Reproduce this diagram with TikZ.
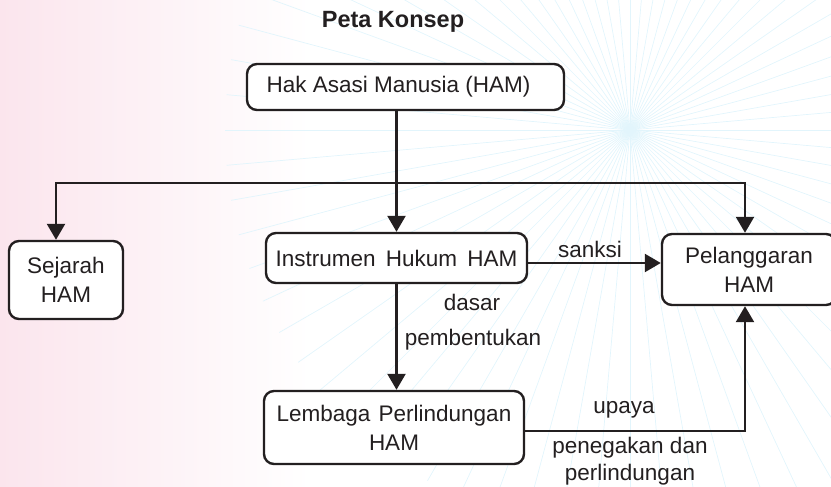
\documentclass[tikz,border=0pt]{standalone}
\usepackage{fontspec}
\setmainfont{Liberation Sans}
\usetikzlibrary{arrows.meta,calc}
\definecolor{ink}{RGB}{35,31,32}
\definecolor{rose}{RGB}{251,229,237}
\definecolor{raycol}{RGB}{226,245,252}
\begin{document}
\begin{tikzpicture}[x=1pt,y=-1pt,
  box/.style={draw=ink, fill=white, line width=2.4pt, rounded corners=10pt, align=center, text=ink,
    font=\fontsize{22.5}{29}\selectfont},
  lbl/.style={text=ink, font=\fontsize{22.5}{29}\selectfont, inner sep=0pt},
  arr/.style={draw=ink, line width=2.4pt, -{Triangle[width=18pt,length=16pt]}}]
\useasboundingbox (0,0) rectangle (831,487);
% background
\shade[left color=rose, right color=white] (0,0) rectangle (310,487);
\foreach \a in {0,5,...,355} \draw[raycol, line width=0.7pt] (630,130) -- ++(\a:405);
% title
\node[text=ink, font=\fontsize{23.5}{26}\selectfont\bfseries] (title) at (393,22) {Peta Konsep};
% boxes
\node[box, minimum width=317pt, minimum height=46pt] (ham) at (405.5,87) {Hak Asasi Manusia (HAM)\hspace*{14pt}};
\node[box, minimum width=114pt, minimum height=78pt] (sej) at (66,280) {Sejarah\\HAM};
\node[box, minimum width=261pt, minimum height=50pt] (ins) at (396.5,258) {Instrumen\hspace{4pt} Hukum\hspace{4pt} HAM};
\node[box, minimum width=174pt, minimum height=71pt] (pel) at (749,269.5) {Pelanggaran\\HAM};
\node[box, minimum width=260pt, minimum height=73pt] (lem) at (394,427.5) {Lembaga\hspace{2pt} Perlindungan\\HAM};
% helper coordinates
\coordinate (hy) at (0,183);
\coordinate (px) at (745,0);
\coordinate (sx) at (56,0);
% connectors
\draw[arr] (ham.south -| ins.north) -- (ins.north);
\draw[arr] (hy -| ins.north) -| (sej.north -| sx);
\draw[arr] (hy -| ins.north) -| (pel.north -| px);
\path (ins.east) ++(0,5) coordinate (s1);
\draw[arr] (s1) -- (s1 -| pel.west);
\draw[arr] (ins.south) -- (ins.south |- lem.north);
\path (lem.east) ++(0,3.5) coordinate (u1);
\draw[arr] (u1) -| (pel.south -| px);
% labels
\node[lbl] (l1) at (590,249) {sanksi};
\node[lbl] (l2) at (472,302) {dasar};
\node[lbl] (l3) at (473,340) {pembentukan};
\node[lbl] (l4) at (624,410) {upaya};
\node[lbl] (l5) at (630,448) {penegakan dan};
\node[lbl] (l6) at (630,475) {perlindungan};
\end{tikzpicture}
\end{document}
